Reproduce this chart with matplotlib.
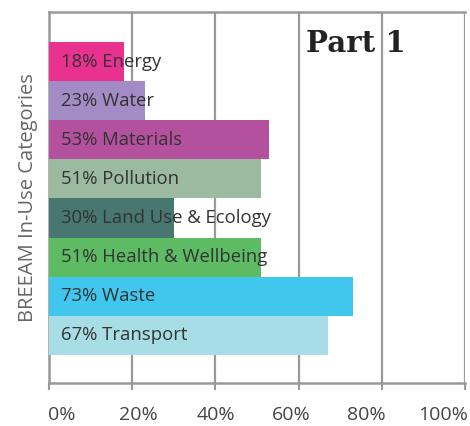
import matplotlib
matplotlib.use('Agg')
import matplotlib.pyplot as plt
import matplotlib.transforms as mtransforms

categories = ['Energy', 'Water', 'Materials', 'Pollution', 'Land Use & Ecology',
              'Health & Wellbeing', 'Waste', 'Transport']
values = [18, 23, 53, 51, 30, 51, 73, 67]
colors = ['#e9318f', '#a38bc5', '#b4519e', '#9cbaa0', '#487671',
          '#5dbb63', '#41c6ee', '#a7dde4']
xticks = [0, 20, 40, 60, 80, 100]
# the labels in the original sit a little off the gridlines
xlabel_pos = [3.1, 21.4, 40.1, 58.2, 76.4, 94.7]

grey = '#999999'
plt.rcParams['font.family'] = ['Open Sans', 'DejaVu Sans']

fig = plt.figure(figsize=(4.7, 4.26), dpi=100)
ax = fig.add_axes([0.1043, 0.101, 0.885, 0.871])

ypos = list(range(len(categories)))
ax.barh(ypos, values, height=1.0, color=colors, zorder=3)
for y, v, c in zip(ypos, values, categories):
    ax.text(2.9, y, '%d%% %s' % (v, c), va='center', ha='left',
            fontsize=13.3, color='#333333', zorder=4)

ax.set_xlim(0, 100)
ax.set_ylim(8.22, -1.27)
ax.set_xticks(xticks)
ax.set_xticklabels([])
ax.set_yticks([])
ax.tick_params(axis='x', length=5, width=1.5, color=grey)
trans = mtransforms.blended_transform_factory(ax.transData, ax.transAxes)
for p, t in zip(xlabel_pos, xticks):
    ax.text(p, -0.085, '%d%%' % t, transform=trans, ha='center', va='center',
            fontsize=14, color='#444444')
ax.xaxis.grid(True, color=grey, linewidth=1.6, zorder=1)
for s in ['left', 'bottom', 'top', 'right']:
    ax.spines[s].set_color(grey)
    ax.spines[s].set_linewidth(1.8)
ax.spines['right'].set_visible(False)

ax.set_ylabel('BREEAM In-Use Categories', fontsize=14.5, color='#666666', labelpad=8)
ax.text(0.617, 0.955, 'Part 1', transform=ax.transAxes, ha='left', va='top',
        fontsize=21, family='DejaVu Serif', fontweight='bold', color='#222222', zorder=5)

fig.savefig('out.png', dpi=100)
